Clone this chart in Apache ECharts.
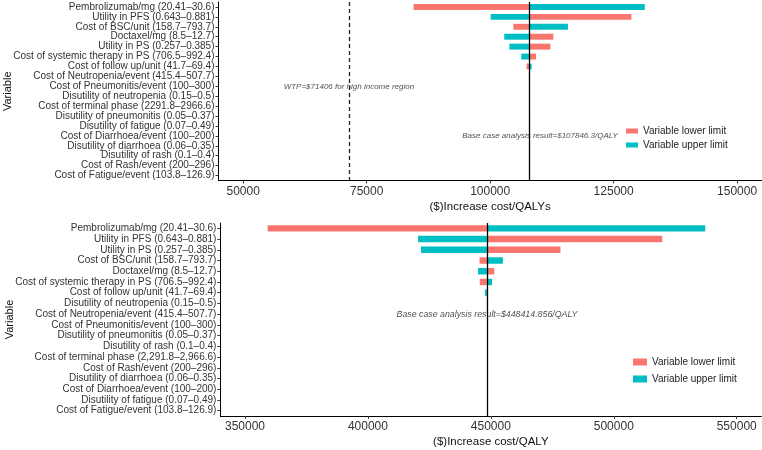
<!DOCTYPE html>
<html>
<head>
<meta charset="utf-8">
<script src="https://cdn.jsdelivr.net/npm/echarts@6/dist/echarts.min.js"></script>
<style>html,body{margin:0;padding:0;background:#fff}#c{width:762px;height:450px}</style>
</head>
<body>
<div id="c"></div>
<script>
// ---------- Top chart data ----------
var topCategories = [
  'Pembrolizumab/mg (20.41–30.6)',
  'Utility in PFS (0.643–0.881)',
  'Cost of BSC/unit (158.7–793.7)',
  'Doctaxel/mg (8.5–12.7)',
  'Utility in PS (0.257–0.385)',
  'Cost of systemic therapy in PS (706.5–992.4)',
  'Cost of follow up/unit (41.7–69.4)',
  'Cost of Neutropenia/event (415.4–507.7)',
  'Cost of Pneumonitis/event (100–300)',
  'Disutility of neutropenia (0.15–0.5)',
  'Cost of terminal phase (2291.8–2966.6)',
  'Disutility of pneumonitis (0.05–0.37)',
  'Disutility of fatigue (0.07–0.49)',
  'Cost of Diarrhoea/event (100–200)',
  'Disutility of diarrhoea (0.06–0.35)',
  'Disutility of rash (0.1–0.4)',
  'Cost of Rash/event (200–296)',
  'Cost of Fatigue/event (103.8–126.9)'
];
var topBase = 107846.3;
var topWTP = 71406;
var topLower = [84500, 128600, 104700, 112800, 112200, 109300, 107380, 107830, 107840, 107850, 107840, 107846, 107846, 107846, 107846, 107846, 107846, 107846];
var topUpper = [131300, 100100, 115750, 102850, 103900, 106300, 108380, 107860, 107850, 107840, 107850, 107846, 107846, 107846, 107846, 107846, 107846, 107846];
var topTicks = [50000, 75000, 100000, 125000, 150000];

// ---------- Bottom chart data ----------
var botCategories = [
  'Pembrolizumab/mg (20.41–30.6)',
  'Utility in PFS (0.643–0.881)',
  'Utility in PS (0.257–0.385)',
  'Cost of BSC/unit (158.7–793.7)',
  'Doctaxel/mg (8.5–12.7)',
  'Cost of systemic therapy in PS (706.5–992.4)',
  'Cost of follow up/unit (41.7–69.4)',
  'Disutility of neutropenia (0.15–0.5)',
  'Cost of Neutropenia/event (415.4–507.7)',
  'Cost of Pneumonitis/event (100–300)',
  'Disutility of pneumonitis (0.05–0.37)',
  'Disutility of rash (0.1–0.4)',
  'Cost of terminal phase (2,291.8–2,966.6)',
  'Cost of Rash/event (200–296)',
  'Disutility of diarrhoea (0.06–0.35)',
  'Cost of Diarrhoea/event (100–200)',
  'Disutility of fatigue (0.07–0.49)',
  'Cost of Fatigue/event (103.8–126.9)'
];
var botBase = 448414.856;
var botLower = [359200, 519700, 478300, 445400, 451400, 445500, 448600, 448450, 448420, 448415, 448415, 448415, 448415, 448415, 448415, 448415, 448415, 448415];
var botUpper = [537200, 420400, 421600, 454900, 444800, 450500, 447600, 448380, 448410, 448415, 448415, 448415, 448415, 448415, 448415, 448415, 448415, 448415];
var botTicks = [350000, 400000, 450000, 500000, 550000];

var RED = '#F8766D', TEAL = '#00BFC4';
var FONT = '"Liberation Sans", Arial, Helvetica, sans-serif';

function tornado(base, color) {
  return function (params, api) {
    var cat = api.value(1);
    var v = api.value(0);
    var p0 = api.coord([base, cat]);
    var p1 = api.coord([v, cat]);
    var h = api.size([0, 1])[1] * 0.6;
    return {
      type: 'rect',
      shape: { x: Math.min(p0[0], p1[0]), y: p0[1] - h / 2, width: Math.abs(p1[0] - p0[0]), height: h },
      style: { fill: color }
    };
  };
}
function pairs(vals, cats) { return vals.map(function (v, i) { return [v, cats[i]]; }); }

function xAxisOf(gi, min, max, ticks, name) {
  return {
    type: 'value', gridIndex: gi, min: min, max: max,
    splitLine: { show: false },
    axisLine: { show: true, lineStyle: { color: '#000', width: 1 } },
    axisTick: { show: true, length: 3, customValues: ticks, lineStyle: { color: '#333' } },
    axisLabel: { customValues: ticks, fontSize: 12, color: '#333', margin: 5, fontFamily: FONT,
      formatter: function (v) { return String(v); } },
    name: name, nameLocation: 'middle', nameGap: 20, nameMoveOverlap: false,
    nameTextStyle: { fontSize: 11.5, color: '#111', fontFamily: FONT }
  };
}
function yAxisOf(gi, cats) {
  return {
    type: 'category', gridIndex: gi, data: cats, inverse: true,
    axisLine: { show: true, lineStyle: { color: '#000', width: 1 } },
    axisTick: { show: true, length: 3, alignWithLabel: true, lineStyle: { color: '#333' } },
    axisLabel: { fontSize: 10, color: '#333', margin: 4, fontFamily: FONT, interval: 0 },
    name: 'Variable', nameLocation: 'middle', nameGap: 205, nameRotate: 90, nameMoveOverlap: false,
    nameTextStyle: { fontSize: 11, color: '#111', fontFamily: FONT }
  };
}
function annot(gi, text, x, cat, size) {
  return {
    type: 'scatter', xAxisIndex: gi, yAxisIndex: gi, symbolSize: 1,
    itemStyle: { color: 'rgba(0,0,0,0)' }, silent: true, z: 5,
    data: [[x, cat]],
    label: { show: true, position: 'inside', formatter: text, fontSize: size, fontStyle: 'italic', color: '#222', fontFamily: FONT }
  };
}

var option = {
  backgroundColor: '#fff',
  animation: false,
  grid: [
    { left: 218.5, top: 2, width: 543.3, height: 178.5, containLabel: false, outerBoundsMode: 'none' },
    { left: 220.4, top: 223, width: 540.9, height: 193, containLabel: false, outerBoundsMode: 'none' }
  ],
  xAxis: [
    xAxisOf(0, 45000, 155000, topTicks, '($)Increase cost/QALYs'),
    xAxisOf(1, 340000, 560000, botTicks, '($)Increase cost/QALY')
  ],
  yAxis: [yAxisOf(0, topCategories), yAxisOf(1, botCategories)],
  legend: [
    { orient: 'vertical', left: 626, top: 125, padding: 0, itemGap: 2, itemWidth: 12, itemHeight: 5, icon: 'rect',
      data: ['Variable lower limit', 'Variable upper limit'],
      textStyle: { fontSize: 10, color: '#222', fontFamily: FONT, lineHeight: 12 } },
    { orient: 'vertical', left: 633, top: 356, padding: 0, itemGap: 5, itemWidth: 14, itemHeight: 7, icon: 'rect',
      data: ['Variable lower limit', 'Variable upper limit'],
      textStyle: { fontSize: 10, color: '#222', fontFamily: FONT, lineHeight: 12 } }
  ],
  series: [
    { type: 'custom', name: 'Variable lower limit', xAxisIndex: 0, yAxisIndex: 0, itemStyle: { color: RED },
      encode: { x: 0, y: 1 }, renderItem: tornado(topBase, RED), data: pairs(topLower, topCategories) },
    { type: 'custom', name: 'Variable upper limit', xAxisIndex: 0, yAxisIndex: 0, itemStyle: { color: TEAL },
      encode: { x: 0, y: 1 }, renderItem: tornado(topBase, TEAL), data: pairs(topUpper, topCategories),
      markLine: { silent: true, symbol: 'none', label: { show: false }, z: 10,
        data: [
          { xAxis: topBase, lineStyle: { color: '#000', width: 1.3, type: 'solid' } },
          { xAxis: topWTP, lineStyle: { color: '#222', width: 1.3, type: [4, 3] } }
        ] } },
    { type: 'custom', name: 'Variable lower limit', xAxisIndex: 1, yAxisIndex: 1, itemStyle: { color: RED },
      encode: { x: 0, y: 1 }, renderItem: tornado(botBase, RED), data: pairs(botLower, botCategories) },
    { type: 'custom', name: 'Variable upper limit', xAxisIndex: 1, yAxisIndex: 1, itemStyle: { color: TEAL },
      encode: { x: 0, y: 1 }, renderItem: tornado(botBase, TEAL), data: pairs(botUpper, botCategories),
      markLine: { silent: true, symbol: 'none', label: { show: false }, z: 10,
        data: [ { xAxis: botBase, lineStyle: { color: '#000', width: 1.3, type: 'solid' } } ] } },
    annot(0, 'WTP=$71406 for high income region', topWTP, topCategories[8], 8),
    annot(0, 'Base case analysis result=$107846.3/QALY', 110100, topCategories[13], 8),
    annot(1, 'Base case analysis result=$448414.856/QALY', botBase, botCategories[8], 8.8)
  ]
};
var chart = echarts.init(document.getElementById('c'), null, { renderer: 'canvas' });
chart.setOption(option);
</script>
</body>
</html>
